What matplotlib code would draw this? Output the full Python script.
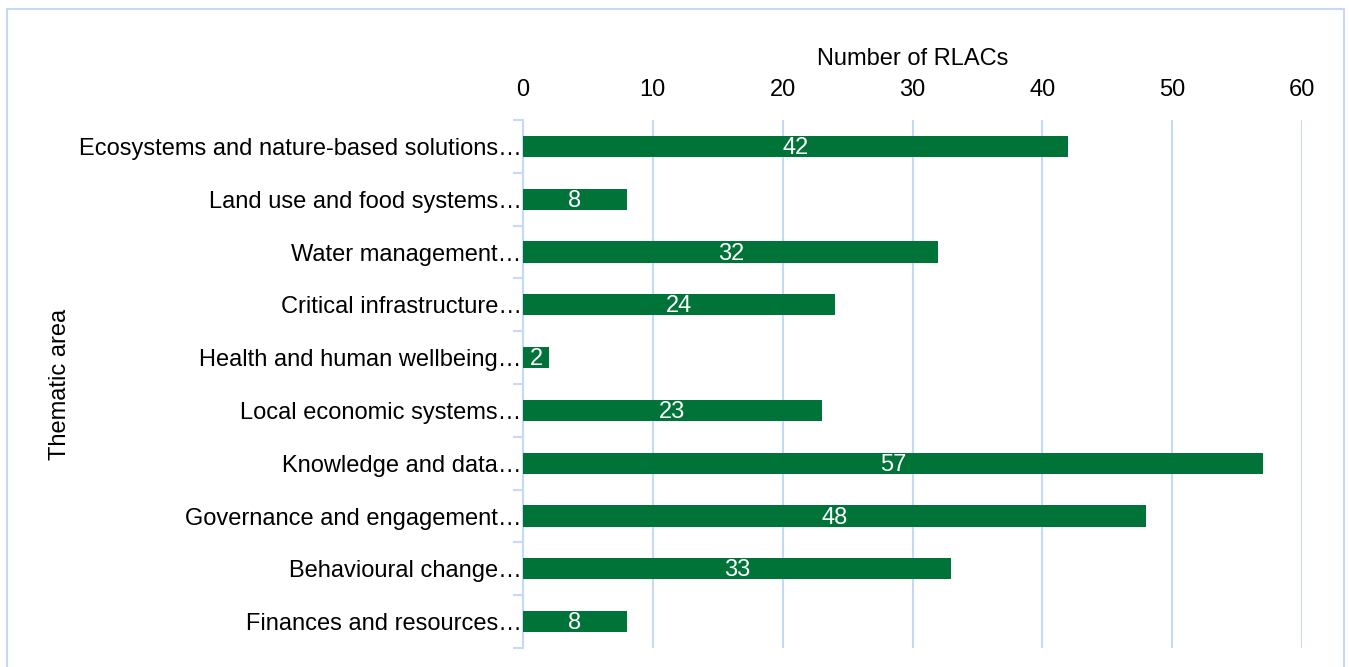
import numpy as np
import matplotlib
matplotlib.use('Agg')
import matplotlib.pyplot as plt
from matplotlib.patches import Rectangle

plt.rcParams['font.family'] = ['Liberation Sans', 'DejaVu Sans']

categories = [
    "Ecosystems and nature-based solutions…",
    "Land use and food systems…",
    "Water management…",
    "Critical infrastructure…",
    "Health and human wellbeing…",
    "Local economic systems…",
    "Knowledge and data…",
    "Governance and engagement…",
    "Behavioural change…",
    "Finances and resources…",
]
counts = [42, 8, 32, 24, 2, 23, 57, 48, 33, 8]
x_ticks = [0, 10, 20, 30, 40, 50, 60]

BAR_COLOR = "#007339"
GRID_COLOR = "#c6d9f8"
FS = 17

fig = plt.figure(figsize=(13.49, 6.67), dpi=100)
ax = fig.add_axes([523 / 1349, 1 - 648 / 667, 779 / 1349, 528 / 667])

y = np.arange(len(categories))
ax.barh(y, counts, height=0.4, color=BAR_COLOR, zorder=3)
for yi, v in zip(y, counts):
    ax.text(v / 2, yi + 0.03, str(v), color="white", ha="center", va="center",
            fontsize=FS, zorder=4)

ax.set_xlim(0, 60)
ax.set_ylim(len(categories) - 0.5, -0.5)
ax.xaxis.tick_top()
ax.xaxis.set_label_position("top")
ax.set_xticks(x_ticks)
ax.set_xticklabels([str(t) for t in x_ticks], fontsize=FS)
ax.tick_params(axis="x", length=0, pad=14)
ax.set_xlabel("Number of RLACs", fontsize=FS, labelpad=10)

ax.set_yticks(y)
ax.set_yticklabels(categories, fontsize=FS)
ax.tick_params(axis="y", which="major", length=0, pad=1)
ax.set_yticks(np.arange(-0.5, len(categories), 1), minor=True)
ax.tick_params(axis="y", which="minor", length=7, width=1.5, color=GRID_COLOR)
ax.set_ylabel("Thematic area", fontsize=FS, labelpad=6)

ax.grid(axis="x", color=GRID_COLOR, linewidth=1.5, zorder=0)
for s in ["top", "right", "bottom"]:
    ax.spines[s].set_visible(False)
ax.spines["left"].set_color(GRID_COLOR)
ax.spines["left"].set_linewidth(1.5)

# outer chart border
fig.patches.append(Rectangle((7 / 1349, -0.01), 1337 / 1349, 1 - 9 / 667 + 0.01,
                             transform=fig.transFigure, fill=False,
                             edgecolor=GRID_COLOR, linewidth=1.5))

plt.savefig("out.png", dpi=100)
plt.close()
